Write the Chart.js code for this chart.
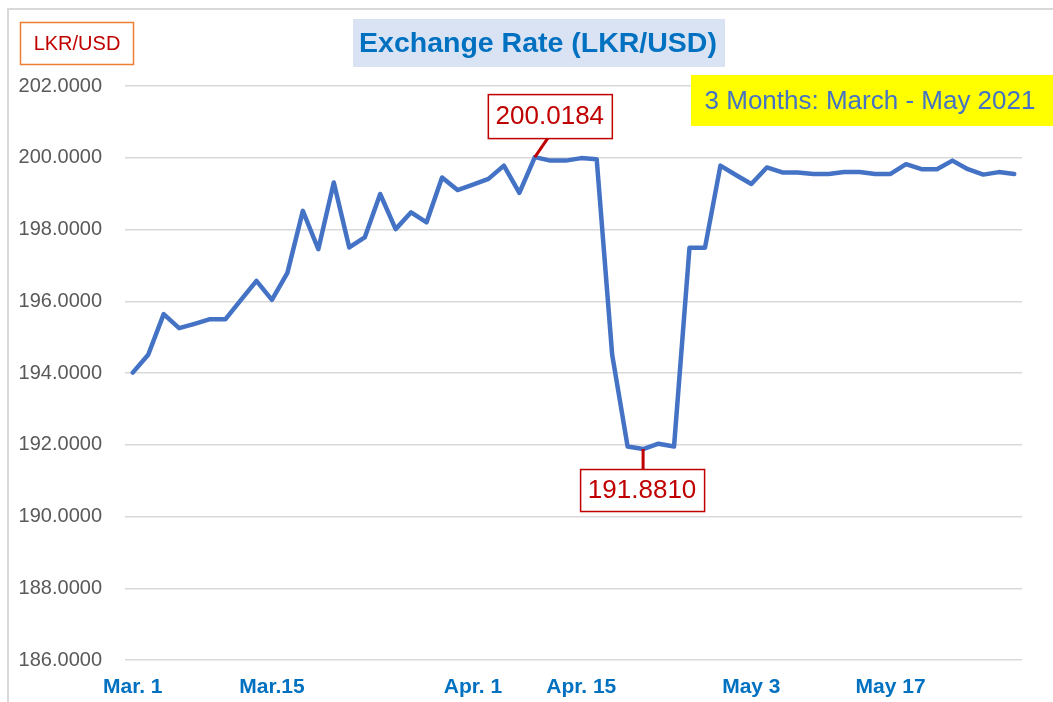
<!DOCTYPE html>
<html><head><meta charset="utf-8">
<script src="https://cdn.jsdelivr.net/npm/chart.js@4"></script>
<style>html,body{margin:0;padding:0;background:#fff}#wrap{width:1053px;height:702px;position:relative}canvas{display:block}</style>
</head><body><div id="wrap"><canvas id="c" width="1053" height="702"></canvas></div>
<script>
// ---- data ----
const rates = [
  194.01, 194.51, 195.64, 195.25, 195.37, 195.50, 195.50, 196.04, 196.57, 196.04,
  196.79, 198.52, 197.45, 199.31, 197.50, 197.78, 198.99, 198.01, 198.48, 198.20,
  199.45, 199.10, 199.25, 199.41, 199.78, 199.02, 200.0184, 199.92, 199.92, 199.99,
  199.96, 194.51, 191.95, 191.8810, 192.03, 191.95, 197.49, 197.49, 199.78, 199.52,
  199.27, 199.73, 199.59, 199.59, 199.55, 199.55, 199.60, 199.60, 199.55, 199.55,
  199.82, 199.68, 199.68, 199.92, 199.68, 199.53, 199.60, 199.55
];
const tickIndex = [0, 9, 22, 29, 40, 49];
const tickText = ['Mar. 1', 'Mar.15', 'Apr. 1', 'Apr. 15', 'May 3', 'May 17'];
const categories = rates.map((v, i) => { const k = tickIndex.indexOf(i); return k >= 0 ? tickText[k] : ''; });
const yMin = 186, yMax = 202, yStep = 2;
const chartTitle = 'Exchange Rate (LKR/USD)';
const unitLabel = 'LKR/USD';
const periodLabel = '3 Months: March - May 2021';

const FONT = "'Liberation Sans', Arial, sans-serif";

const decor = {
  id: 'decor',
  beforeDraw(chart) {
    const ctx = chart.ctx;
    ctx.save();
    ctx.fillStyle = '#fff';
    ctx.fillRect(0, 0, chart.width, chart.height);
    ctx.strokeStyle = '#D9D9D9';
    ctx.lineWidth = 2;
    ctx.beginPath();
    ctx.moveTo(8, chart.height + 2); ctx.lineTo(8, 9); ctx.lineTo(chart.width + 2, 9);
    ctx.stroke();
    ctx.restore();
  },
  afterDatasetsDraw(chart) {
    const ctx = chart.ctx;
    const meta = chart.getDatasetMeta(0);
    const data = chart.data.datasets[0].data;
    let iMax = 0, iMin = 0;
    data.forEach((v, i) => { if (v > data[iMax]) iMax = i; if (v < data[iMin]) iMin = i; });
    const pMax = meta.data[iMax], pMin = meta.data[iMin];
    ctx.save();
    // leader lines
    ctx.strokeStyle = '#C00000';
    ctx.lineWidth = 3;
    ctx.beginPath();
    ctx.moveTo(pMax.x, pMax.y); ctx.lineTo(pMax.x + 13, pMax.y - 19);
    ctx.moveTo(pMin.x, pMin.y); ctx.lineTo(pMin.x, pMin.y + 20);
    ctx.stroke();
    // boxes
    function labelBox(x, y, w, h, text) {
      ctx.fillStyle = '#fff';
      ctx.fillRect(x, y, w, h);
      ctx.strokeStyle = '#C00000';
      ctx.lineWidth = 1.5;
      ctx.strokeRect(x + 0.5, y + 0.5, w, h);
      ctx.fillStyle = '#C00000';
      ctx.font = '26px ' + FONT;
      ctx.textAlign = 'center';
      ctx.textBaseline = 'middle';
      ctx.fillText(text, x + w / 2, y + h / 2 + 1);
    }
    labelBox(pMax.x - 47, pMax.y - 63, 124, 44, data[iMax].toFixed(4));
    labelBox(pMin.x - 63, pMin.y + 20, 124, 42, data[iMin].toFixed(4));

    // title box
    ctx.fillStyle = '#DAE3F3';
    ctx.fillRect(353, 19, 372, 48);
    ctx.fillStyle = '#0070C0';
    ctx.font = 'bold 28.5px ' + FONT;
    ctx.textAlign = 'center';
    ctx.textBaseline = 'middle';
    ctx.fillText(chartTitle, 538, 44);

    // unit box
    ctx.strokeStyle = '#ED7D31';
    ctx.lineWidth = 1.5;
    ctx.strokeRect(20.5, 22.5, 113, 42);
    ctx.fillStyle = '#C00000';
    ctx.font = '20px ' + FONT;
    ctx.fillText(unitLabel, 77, 44);

    // period box
    ctx.fillStyle = '#FFFF00';
    ctx.fillRect(691, 75, 370, 51);
    ctx.fillStyle = '#4472C4';
    ctx.font = '26px ' + FONT;
    ctx.fillText(periodLabel, 870, 102);
    ctx.restore();
  }
};

new Chart(document.getElementById('c'), {
  type: 'line',
  data: {
    labels: categories,
    datasets: [{
      data: rates,
      borderColor: '#4472C4',
      borderWidth: 4.5,
      borderJoinStyle: 'round',
      borderCapStyle: 'round',
      pointRadius: 0,
      tension: 0,
      fill: false
    }]
  },
  options: {
    responsive: false,
    animation: false,
    devicePixelRatio: 1,
    layout: { padding: { top: 86, right: 31, left: 0, bottom: 0 } },
    plugins: { legend: { display: false }, title: { display: false }, tooltip: { enabled: false } },
    scales: {
      x: {
        offset: true,
        grid: { display: false, drawTicks: false },
        border: { display: false },
        ticks: {
          autoSkip: false, maxRotation: 0, minRotation: 0,
          color: '#0070C0', font: { family: FONT, size: 21, weight: 'bold' }, padding: 15
        },
        afterFit(s) { s.height = 42; }
      },
      y: {
        min: yMin, max: yMax,
        ticks: {
          stepSize: yStep, callback: v => Number(v).toFixed(4),
          color: '#595959', font: { family: FONT, size: 20 }, padding: 23
        },
        grid: { color: '#D9D9D9', lineWidth: 1.5, drawTicks: false },
        border: { display: false },
        afterFit(s) { s.width = 125; }
      }
    }
  },
  plugins: [decor]
});
</script>
</body></html>
